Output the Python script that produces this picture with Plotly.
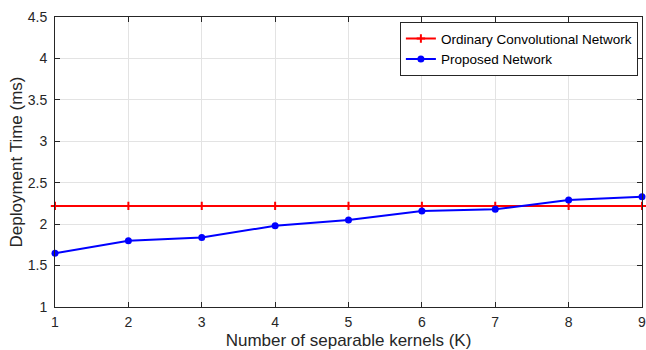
import plotly.graph_objects as go

kernels = [1, 2, 3, 4, 5, 6, 7, 8, 9]
ordinary = [2.22, 2.22, 2.22, 2.22, 2.22, 2.22, 2.22, 2.22, 2.22]
proposed = [1.65, 1.80, 1.84, 1.98, 2.05, 2.16, 2.18, 2.29, 2.33]
x_ticks = [1, 2, 3, 4, 5, 6, 7, 8, 9]
y_ticks = [1, 1.5, 2, 2.5, 3, 3.5, 4, 4.5]
y_tick_labels = ["1", "1.5", "2", "2.5", "3", "3.5", "4", "4.5"]

font_family = "Liberation Sans, Arial, sans-serif"

fig = go.Figure()
fig.add_trace(go.Scatter(
    x=kernels, y=ordinary, mode="lines+markers", name="Ordinary Convolutional Network",
    line=dict(color="#ff0000", width=2),
    marker=dict(symbol="cross-thin", size=6, line=dict(color="#ff0000", width=2)),
    cliponaxis=False,
))
fig.add_trace(go.Scatter(
    x=kernels, y=proposed, mode="lines+markers", name="Proposed Network",
    line=dict(color="#0000ff", width=2),
    marker=dict(symbol="circle", size=7, color="#0000ff"),
    cliponaxis=False,
))

axis_common = dict(
    showline=True, linecolor="#262626", linewidth=1, mirror="ticks",
    ticks="inside", ticklen=5, tickcolor="#262626",
    showgrid=True, gridcolor="#e3e3e3", gridwidth=1, zeroline=False,
    tickfont=dict(family=font_family, size=14, color="#262626"),
    automargin=False, ticklabeloverflow="allow",
)

fig.update_layout(
    width=646, height=350,
    margin=dict(l=55, r=4, t=17, b=43),
    paper_bgcolor="white", plot_bgcolor="white",
    font=dict(family=font_family, color="#262626"),
    xaxis=dict(range=[1, 9], tickvals=x_ticks, ticklabelstandoff=2, **axis_common,
               title=dict(text="Number of separable kernels (K)", standoff=10,
                          font=dict(family=font_family, size=17, color="#262626"))),
    yaxis=dict(range=[1, 4.5], tickvals=y_ticks, ticktext=y_tick_labels,
               ticklabelstandoff=4, **axis_common,
               title=dict(text="Deployment Time (ms)", standoff=0,
                          font=dict(family=font_family, size=17, color="#262626"))),
    legend=dict(x=0.993, y=0.982, xanchor="right", yanchor="top",
                bgcolor="white", bordercolor="#262626", borderwidth=1,
                font=dict(family=font_family, size=13.5, color="#000000"),
                tracegroupgap=0, itemwidth=30),
    showlegend=True,
)

fig.write_html("out.html", config={"displayModeBar": False},
               post_script="document.body.style.margin='0';")
